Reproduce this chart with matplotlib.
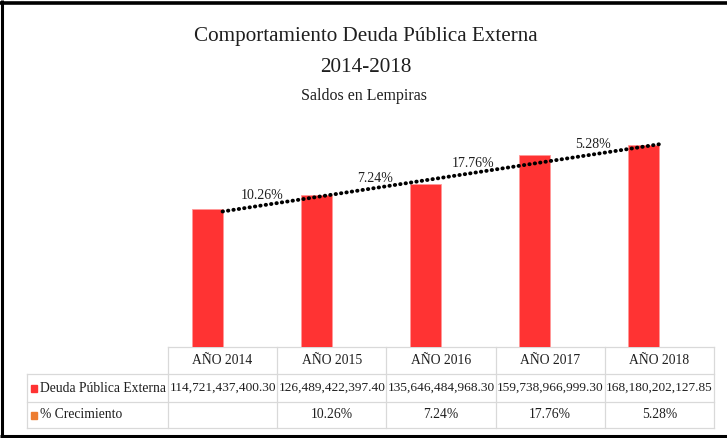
import numpy as np
import matplotlib
matplotlib.use("Agg")
import matplotlib.pyplot as plt

# --- data -------------------------------------------------------------
years = ["AÑO 2014", "AÑO 2015", "AÑO 2016", "AÑO 2017", "AÑO 2018"]
deuda = [114721437400.30, 126489422397.40, 135646484968.30,
         159738966999.30, 168180202127.85]
crecimiento = [None, 10.26, 7.24, 17.76, 5.28]
deuda_labels = ["114,721,437,400.30", "126,489,422,397.40", "135,646,484,968.30",
                "159,738,966,999.30", "168,180,202,127.85"]

BAR_RED = "#FF3333"
PCT_ORANGE = "#ED7D31"
GRID = "#D9D9D9"
TXT = "#1F1F1F"
W, H = 727, 438

plt.rcParams["font.family"] = ["Liberation Serif", "DejaVu Serif"]

fig = plt.figure(figsize=(W / 100, H / 100), dpi=100)
fig.patch.set_facecolor("white")

# overlay in pixel units for the frame, titles and the data table
ov = fig.add_axes([0, 0, 1, 1])
ov.set_xlim(0, W)
ov.set_ylim(H, 0)
ov.axis("off")

# outer frame (right side is cut off)
ov.plot([1.5, 1.5], [0, H], color="black", lw=2.2, solid_capstyle="butt")
ov.plot([0, W], [2.5, 2.5], color="black", lw=2.6, solid_capstyle="butt")
ov.plot([0, W], [436, 436], color="black", lw=2.2, solid_capstyle="butt")

# titles
ov.text(366, 37, "Comportamiento Deuda Pública Externa", ha="center", va="center",
        fontsize=15.2, color=TXT)
ov.text(366, 67, "2014-2018", ha="center", va="center", fontsize=15.2, color=TXT)
ov.text(364, 96, "Saldos en Lempiras", ha="center", va="center", fontsize=11.5, color=TXT)

# --- chart ------------------------------------------------------------
x0, x1 = 168, 714
y_base, y_top = 347, 107
ax = fig.add_axes([x0 / W, 1 - y_base / H, (x1 - x0) / W, (y_base - y_top) / H])
ax.set_xlim(-0.5, len(years) - 0.5)
ax.set_ylim(0, 2e11)
ax.axis("off")

x = np.arange(len(years))
bw = 0.284
ax.bar(x - bw / 2, deuda, width=bw, color=BAR_RED, edgecolor="#FF9999", linewidth=0.6)

# linear trendline over the debt series
slope, icpt = np.polyfit(x, deuda, 1)
ax.plot(x, slope * x + icpt, color="black", lw=2.8,
        linestyle=(0, (0.1, 1.3)), dash_capstyle="round")

# growth labels sitting above the trendline, between categories
lbl_shift = [0, -0.64, -0.60, -0.71, -0.61]
for i, v in enumerate(crecimiento):
    if v is None:
        continue
    lx = i + lbl_shift[i]
    ax.annotate(f"{v:.2f}%", (lx, slope * lx + icpt), xytext=(0, 7),
                textcoords="offset points", ha="center", va="center",
                fontsize=10, color=TXT)

# --- data table -------------------------------------------------------
col_edges = np.linspace(x0, x1, len(years) + 1)
tl = 27
rows = [347, 374, 402, 428]
lw = 0.9
# header row (no cell above the series names)
ov.plot([x0, x1], [rows[0], rows[0]], color=GRID, lw=lw)
ov.plot([tl, x1], [rows[1], rows[1]], color=GRID, lw=lw)
ov.plot([tl, x1], [rows[2], rows[2]], color=GRID, lw=lw)
ov.plot([tl, x1], [rows[3], rows[3]], color=GRID, lw=lw)
ov.plot([tl, tl], [rows[1], rows[3]], color=GRID, lw=lw)
for cx in col_edges:
    ov.plot([cx, cx], [rows[0], rows[3]], color=GRID, lw=lw)

for i, name in enumerate(years):
    cx = (col_edges[i] + col_edges[i + 1]) / 2
    ov.text(cx, (rows[0] + rows[1]) / 2, name, ha="center", va="center",
            fontsize=9.8, color=TXT)
    ov.text(cx, (rows[1] + rows[2]) / 2, deuda_labels[i], ha="center", va="center",
            fontsize=9.6, color=TXT)
    if crecimiento[i] is not None:
        ov.text(cx, (rows[2] + rows[3]) / 2, f"{crecimiento[i]:.2f}%", ha="center",
                va="center", fontsize=9.8, color=TXT)

# series keys
for r, (name, col) in enumerate([("Deuda Pública Externa", BAR_RED),
                                 ("% Crecimiento", PCT_ORANGE)]):
    cy = (rows[r + 1] + rows[r + 2]) / 2
    ov.add_patch(plt.Rectangle((31, cy - 3.5), 6, 7, color=col))
    ov.text(40, cy, name, ha="left", va="center", fontsize=9.8, color=TXT)

fig.savefig("out.png", dpi=100)
